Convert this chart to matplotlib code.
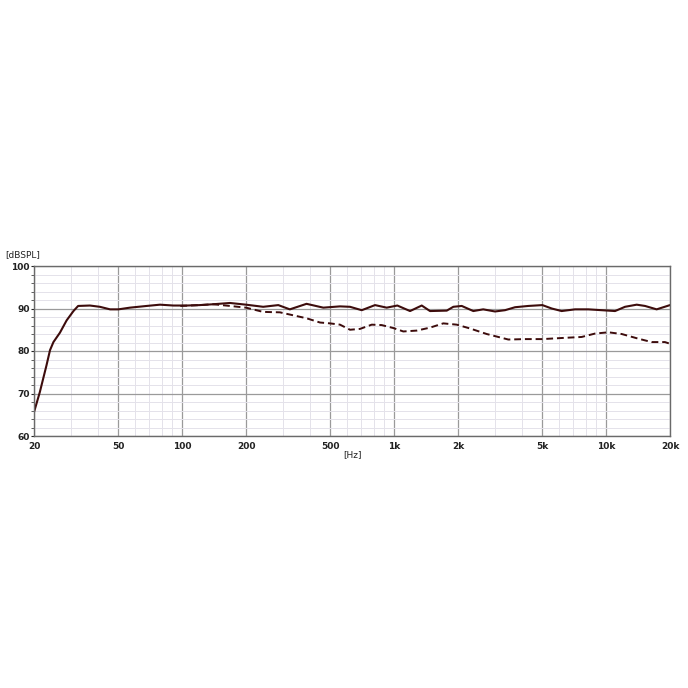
import numpy as np
import matplotlib
matplotlib.use("Agg")
from matplotlib import pyplot as plt
from matplotlib.ticker import FixedLocator, NullFormatter

plt.rcParams['font.family'] = ['DejaVu Sans']

# on-axis response (solid)
freq_on = [20, 21.3, 22.9, 23.8, 24.7, 26.5, 28.5, 30.7, 32.3, 36.7, 40.9, 45.7, 50, 56.7,
           68, 78.6, 90.8, 105, 121, 140, 168, 200, 241, 284, 322, 386, 463, 555, 619,
           703, 812, 922, 1035, 1188, 1349, 1476, 1770, 1901, 2083, 2362, 2630, 2989,
           3333, 3716, 4293, 5000, 5534, 6164, 7129, 8237, 9531, 11010, 12270, 13930,
           15250, 17300, 20000]
spl_on = [65.6, 70.3, 76.6, 80.2, 82.1, 84.3, 87.2, 89.4, 90.6, 90.7, 90.4, 89.8, 89.8, 90.2,
          90.6, 90.9, 90.7, 90.7, 90.8, 91.0, 91.3, 90.9, 90.4, 90.8, 89.8, 91.1, 90.2, 90.5, 90.4,
          89.6, 90.8, 90.2, 90.7, 89.4, 90.7, 89.4, 89.5, 90.4, 90.6, 89.4, 89.8, 89.3,
          89.6, 90.3, 90.6, 90.8, 90.0, 89.4, 89.8, 89.8, 89.6, 89.4, 90.4, 90.9,
          90.6, 89.8, 90.8]

# off-axis response (dashed)
freq_off = [98, 121, 140, 168, 200, 241, 289, 334, 386, 447, 498, 555, 619, 690, 784, 873,
            991, 1104, 1277, 1476, 1705, 1972, 2279, 2731, 3455, 4141, 5000, 6393, 7660,
            8853, 10240, 11830, 14180, 16390, 18930, 20000]
spl_off = [90.6, 90.8, 91.0, 90.6, 90.2, 89.2, 89.1, 88.4, 87.7, 86.7, 86.5, 86.2, 85.0, 85.2,
           86.2, 86.1, 85.4, 84.6, 84.8, 85.5, 86.5, 86.2, 85.3, 84.0, 82.7, 82.8, 82.8, 83.1,
           83.3, 84.1, 84.4, 84.0, 82.9, 82.1, 82.1, 81.7]

x_major = [20, 50, 100, 200, 500, 1000, 2000, 5000, 10000, 20000]
x_labels = ['20', '50', '100', '200', '500', '1k', '2k', '5k', '10k', '20k']
x_minor = [30, 40, 60, 70, 80, 90, 300, 400, 600, 700, 800, 900,
           3000, 4000, 6000, 7000, 8000, 9000]

line_col = '#3d0c0c'

fig = plt.figure(figsize=(6.88, 6.88), dpi=100)
ax = fig.add_axes([34/688, 1-436/688, 636/688, 170/688])

ax.set_xscale('log')
ax.set_xlim(20, 20000)
ax.set_ylim(60, 100)

ax.xaxis.set_major_locator(FixedLocator(x_major))
ax.set_xticklabels(x_labels)
ax.xaxis.set_minor_locator(FixedLocator(x_minor))
ax.xaxis.set_minor_formatter(NullFormatter())
ax.set_yticks([60, 70, 80, 90, 100])
ax.set_yticks(np.arange(60, 101, 2), minor=True)

ax.grid(which='major', color='#9a9a9a', linewidth=0.9)
ax.grid(which='minor', color='#e4e2ea', linewidth=0.7)
ax.set_axisbelow(True)

ax.plot(freq_off, spl_off, color=line_col, linewidth=1.4, linestyle=(0, (3.5, 2)))
ax.plot(freq_on, spl_on, color=line_col, linewidth=1.5)

for s in ax.spines.values():
    s.set_color('#6a6a6a')
    s.set_linewidth(1.0)

ax.tick_params(axis='both', which='major', labelsize=6.5, colors='#222222')
ax.tick_params(axis='y', which='major', length=2.5, width=0.8, pad=0.5)
ax.tick_params(axis='x', which='both', length=0, pad=4)
ax.tick_params(axis='y', which='minor', length=2, width=0.6, color='#444444')
for lab in ax.get_xticklabels() + ax.get_yticklabels():
    lab.set_fontweight('bold')

fig.text(5/688, 1-255/688, '[dBSPL]', fontsize=6.5, color='#222222', va='center', ha='left')
fig.text(352/688, 1-455/688, '[Hz]', fontsize=6.5, color='#222222', va='center', ha='center')

fig.savefig('out.png', dpi=100, facecolor='white')
